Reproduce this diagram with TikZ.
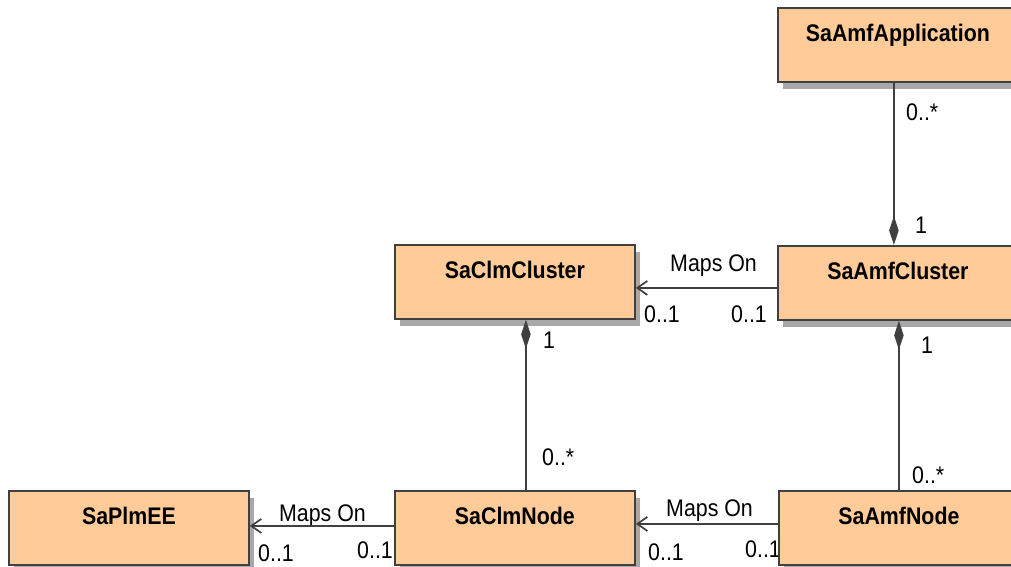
\documentclass[tikz,border=0pt]{standalone}
\usepackage{fontspec}
\setmainfont{Liberation Sans}[FakeStretch=0.89]
\usetikzlibrary{arrows.meta,shadows}

\definecolor{classfill}{HTML}{FFCC99}
\definecolor{edge}{HTML}{404040}
\definecolor{shade}{HTML}{A8A8A8}

\tikzset{
  classbox/.style={
    draw=edge, line width=1.8pt, fill=classfill, rectangle,
    anchor=north west, inner sep=0pt,
    minimum width=240pt, minimum height=74pt,
    text height=33.5pt, text depth=40.5pt,
    font=\fontsize{24}{28}\selectfont\bfseries,
    general shadow={shadow xshift=5pt, shadow yshift=-7pt, fill=shade}
  },
  mult/.style={anchor=base west, inner sep=0pt,
    font=\fontsize{24}{28}\selectfont},
  link/.style={draw=edge, line width=1.7pt},
  comp/.style={link, -{Diamond[length=29pt, width=9.5pt, fill=edge]}},
  maps/.style={link, -{Straight Barb[length=10pt, width=14pt, line width=1.7pt]}}
}

\begin{document}
\begin{tikzpicture}[x=1pt, y=-1pt]
\useasboundingbox (0,0) rectangle (1011,566);
\clip (0,0) rectangle (1011,566);

% association end labels (the boxes are drawn over them)
\node[mult] (l1) at (906,120) {0..*};
\node[mult] (l2) at (915,233) {1};
\node[mult] (l3) at (921,353) {1};
\node[mult] (l4) at (912,483) {0..*};
\node[mult] (l5) at (543,348) {1};
\node[mult] (l6) at (542,465) {0..*};
\node[mult] (l7) at (670,271) {Maps On};
\node[mult] (l8) at (644,322) {0..1};
\node[mult] (l9) at (731,322) {0..1};
\node[mult] (l10) at (666,516) {Maps On};
\node[mult] (l11) at (648,560) {0..1};
\node[mult] (l12) at (745,557) {0..1};
\node[mult] (l13) at (279,521) {Maps On};
\node[mult] (l14) at (258,561) {0..1};
\node[mult] (l15) at (357,558) {0..1};

% classes
\node[classbox] (app)     at (777,7)   {SaAmfApplication};
\node[classbox] (amfc)    at (777,245) {SaAmfCluster};
\node[classbox] (clmc)    at (394,244) {SaClmCluster};
\node[classbox] (plmee)   at (8,490)   {SaPlmEE};
\node[classbox] (clmnode) at (394,490) {SaClmNode};
\node[classbox] (amfnode) at (778,490) {SaAmfNode};

% compositions
\draw[comp] ([xshift=-4pt]app.south) -- ([xshift=-4pt]app.south |- amfc.north);
\draw[comp] ([xshift=1pt]amfnode.north -| amfc.south) -- ([xshift=1pt]amfc.south);
\draw[comp] ([xshift=11pt]clmnode.north) -- ([xshift=11pt]clmc.south);

% mappings
\draw[maps] ([yshift=-5pt]amfc.west) -- ([yshift=-5pt]amfc.west -| clmc.east);
\draw[maps] ([yshift=4pt]amfnode.west) -- ([yshift=4pt]amfnode.west -| clmnode.east);
\draw[maps] ([yshift=2pt]clmnode.west) -- ([yshift=2pt]clmnode.west -| plmee.east);
\end{tikzpicture}
\end{document}
